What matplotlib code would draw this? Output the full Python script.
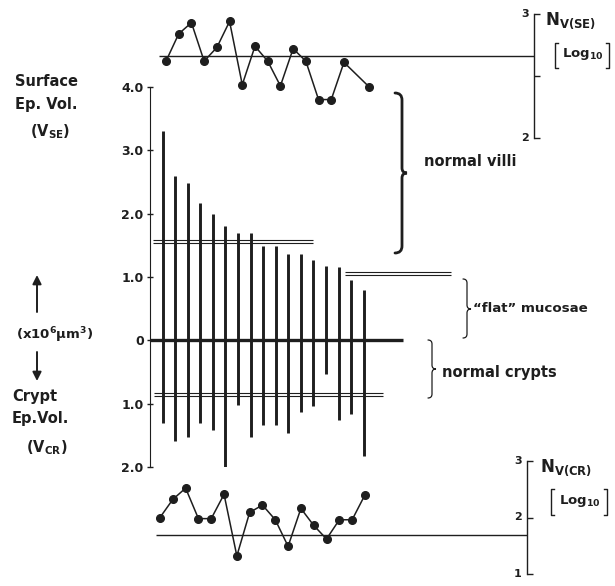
import matplotlib
matplotlib.use('Agg')
import matplotlib.pyplot as plt
from matplotlib.path import Path
from matplotlib.patches import PathPatch

plt.rcParams['font.family'] = ['DejaVu Sans']
plt.rcParams['font.weight'] = 'bold'
plt.rcParams['mathtext.fontset'] = 'custom'
plt.rcParams['mathtext.rm'] = 'DejaVu Sans:bold'
plt.rcParams['mathtext.bf'] = 'DejaVu Sans:bold'

INK = '#1e1e1e'
W, H = 615, 586

# one bar per biopsy
sample = list(range(1, 18))
# surface epithelial volume V_SE (x10^6 um^3), drawn upwards
v_se = [3.31, 2.59, 2.49, 2.17, 2.00, 1.81, 1.70, 1.69, 1.49, 1.49,
        1.37, 1.37, 1.27, 1.18, 1.16, 0.96, 0.79]
# crypt epithelial volume V_CR (x10^6 um^3), drawn downwards
v_cr = [1.31, 1.59, 1.52, 1.30, 1.42, 2.00, 1.02, 1.53, 1.34, 1.33,
        1.47, 1.13, 1.04, 0.53, 1.26, 1.16, 1.83]

# numerical density of surface epithelium, log10 (no value for sample 16)
n_se_x = [1, 2, 3, 4, 5, 6, 7, 8, 9, 10, 11, 12, 13, 14, 15, 17]
n_se = [2.62, 2.84, 2.93, 2.62, 2.73, 2.94, 2.43, 2.74, 2.62, 2.42,
        2.72, 2.62, 2.31, 2.31, 2.61, 2.41]
# numerical density of crypt epithelium, log10
n_cr = [2.00, 2.32, 2.52, 1.98, 1.98, 2.41, 1.32, 2.09, 2.22, 1.96,
        1.49, 2.16, 1.86, 1.62, 1.96, 1.96, 2.40]

# reference levels
n_se_ref = 2.66
n_cr_ref = 1.69
villi_mean = [1.54, 1.58]
flat_mean = [1.03, 1.08]
crypt_mean = [0.83, 0.88]

main_ticks = [-2, -1, 0, 1, 2, 3, 4]
main_labels = ['2.0', '1.0', '0', '1.0', '2.0', '3.0', '4.0']


def fig_rect(x0, y_top, x1, y_bot):
    # pixel box -> figure fraction
    return [x0 / W, 1 - y_bot / H, (x1 - x0) / W, (y_bot - y_top) / H]


def right_scale(ax, ticks, labels, minor=None):
    for s in ['top', 'left', 'bottom']:
        ax.spines[s].set_visible(False)
    ax.spines['right'].set_bounds(min(ticks), max(ticks))
    ax.spines['right'].set_linewidth(1.0)
    ax.spines['right'].set_color(INK)
    ax.set_xticks([])
    ax.yaxis.tick_right()
    ax.set_yticks(ticks)
    ax.set_yticklabels([])
    if minor:
        ax.set_yticks(minor, minor=True)
    ax.tick_params(axis='y', which='both', direction='out', length=4,
                   width=1.0, color=INK)
    for t, lab in zip(ticks, labels):
        ax.annotate(lab, xy=(1, t), xycoords=('axes fraction', 'data'),
                    xytext=(-4, 0), textcoords='offset points',
                    ha='right', va='center', fontsize=8, color=INK)
    ax.patch.set_visible(False)


def brace(ax, x, y0, y1, ym, w_end, w_tip, lw):
    verts = [(x - w_end, y0), (x, y0), (x, y0 + w_end),
             (x, ym - w_tip),
             (x, ym), (x + w_tip, ym),
             (x, ym), (x, ym + w_tip),
             (x, y1 - w_end),
             (x, y1), (x - w_end, y1)]
    codes = [Path.MOVETO, Path.CURVE3, Path.CURVE3,
             Path.LINETO,
             Path.CURVE3, Path.CURVE3,
             Path.CURVE3, Path.CURVE3,
             Path.LINETO,
             Path.CURVE3, Path.CURVE3]
    ax.add_patch(PathPatch(Path(verts, codes), fill=False, lw=lw,
                           edgecolor=INK, capstyle='round'))


def log_box(ax, x0, x1, y0, y1):
    # square brackets round "Log10"
    s = 3
    ax.plot([x0 + s, x0, x0, x0 + s], [y0, y0, y1, y1], color=INK, lw=1.0)
    ax.plot([x1 - s, x1, x1, x1 - s], [y0, y0, y1, y1], color=INK, lw=1.0)
    ax.text((x0 + x1) / 2 + 1, (y0 + y1) / 2 - 1, r'Log$_{\mathbf{10}}$',
            ha='center', va='center', fontsize=9.5, color=INK)


fig = plt.figure(figsize=(6.15, 5.86), dpi=100)

# ---- main panel: V_SE up, V_CR down
ax = fig.add_axes(fig_rect(150, 87, 534, 467))
ax.set_xlim(-0.01, 30.56)
ax.set_ylim(-2, 4)
ax.vlines(sample, [-v for v in v_cr], v_se, color=INK, lw=2.1,
          capstyle='butt')
ax.hlines(0, -0.1, 20.1, color=INK, lw=2.4)
for v in villi_mean:
    ax.hlines(v, 0.23, 12.97, color=INK, lw=0.8)
for v in flat_mean:
    ax.hlines(v, 15.52, 23.95, color=INK, lw=0.8, clip_on=False)
for v in crypt_mean:
    ax.hlines(-v, 0.31, 18.54, color=INK, lw=0.8)
for s in ['top', 'right', 'bottom']:
    ax.spines[s].set_visible(False)
ax.spines['left'].set_bounds(-2, 4)
ax.spines['left'].set_color(INK)
ax.set_xticks([])
ax.set_yticks(main_ticks)
ax.set_yticklabels(main_labels)
ax.tick_params(axis='y', direction='inout', length=5, width=1.0,
               labelsize=9, pad=2, color=INK, labelcolor=INK)
ax.patch.set_visible(False)

# ---- top panel: N_V(SE)
ax_t = fig.add_axes(fig_rect(150, 14, 534, 138))
ax_t.set_xlim(-0.259, 29.95)
ax_t.set_ylim(2, 3)
ax_t.hlines(n_se_ref, 0.45, 29.95, color=INK, lw=1.0)
ax_t.plot(n_se_x, n_se, '-o', color=INK, lw=1.1, ms=5.5, clip_on=False)
right_scale(ax_t, [2, 3], ['2', '3'], minor=[2.5])

# ---- bottom panel: N_V(CR)
ax_b = fig.add_axes(fig_rect(150, 461, 527, 574))
ax_b.set_xlim(0.22, 29.65)
ax_b.set_ylim(1, 3)
ax_b.hlines(n_cr_ref, 0.69, 29.65, color=INK, lw=1.0)
ax_b.plot(sample, n_cr, '-o', color=INK, lw=1.1, ms=5.5, clip_on=False)
right_scale(ax_b, [1, 2, 3], ['1', '2', '3'])

# ---- overlay for labels and braces (pixel coordinates)
ov = fig.add_axes([0, 0, 1, 1])
ov.set_xlim(0, W)
ov.set_ylim(H, 0)
ov.axis('off')
ov.patch.set_visible(False)

lab = dict(fontsize=10.5, color=INK, va='center')
ov.text(15, 81, 'Surface', ha='left', **lab)
ov.text(15, 104, 'Ep. Vol.', ha='left', **lab)
ov.text(50, 132, r'(V$_{\mathbf{SE}}$)', ha='center', **lab)
ov.annotate('', xy=(37, 275), xytext=(37, 312),
            arrowprops=dict(arrowstyle='-|>', lw=1.4, color=INK,
                            mutation_scale=13, shrinkA=0, shrinkB=0))
ov.text(55, 335, r'(x10$^{\mathbf{6}}$μm$^{\mathbf{3}}$)', ha='center',
        fontsize=9.5, color=INK, va='center')
ov.annotate('', xy=(37, 381), xytext=(37, 352),
            arrowprops=dict(arrowstyle='-|>', lw=1.4, color=INK,
                            mutation_scale=13, shrinkA=0, shrinkB=0))
ov.text(12, 397, 'Crypt', ha='left', **lab)
ov.text(12, 418, 'Ep.Vol.', ha='left', **lab)
ov.text(47, 448, r'(V$_{\mathbf{CR}}$)', ha='center', **lab)

ov.text(545, 21, r'N$_{\mathbf{V(SE)}}$', ha='left', va='center',
        fontsize=12, color=INK)
log_box(ov, 555, 609, 43, 68)
ov.text(540, 468, r'N$_{\mathbf{V(CR)}}$', ha='left', va='center',
        fontsize=12, color=INK)
log_box(ov, 551, 607, 489, 515)

brace(ov, 402, 93, 253, 173, 7, 5, 2.0)
ov.text(424, 161, 'normal villi', ha='left', **lab)
brace(ov, 467, 279, 338, 309, 4, 4, 0.9)
ov.text(473, 309, '\u201cflat\u201d mucosae', ha='left', fontsize=9.6,
        color=INK, va='center')
brace(ov, 432, 340, 398, 369, 4, 4, 0.9)
ov.text(442, 372, 'normal crypts', ha='left', **lab)

fig.savefig('out.png', dpi=100, facecolor='white')
